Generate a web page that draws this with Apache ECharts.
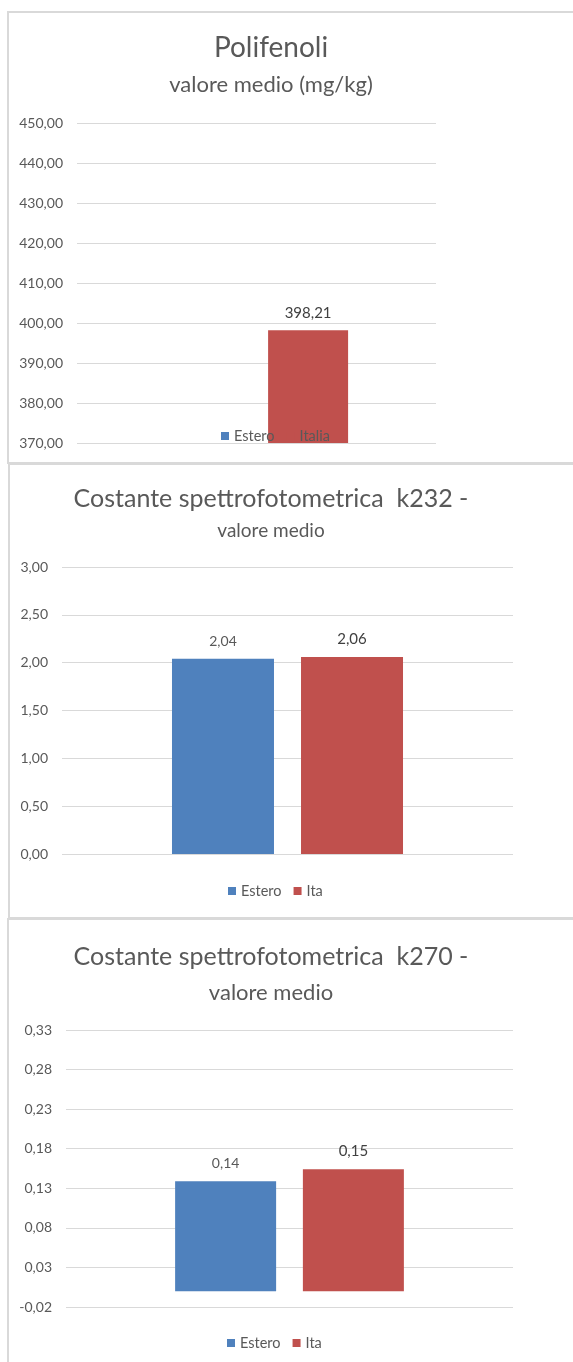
<!DOCTYPE html>
<html><head><meta charset="utf-8">
<script src="https://cdn.jsdelivr.net/npm/echarts@6/dist/echarts.min.js"></script>
<style>html,body{margin:0;padding:0;background:#fff}#c{width:573px;height:1362px}</style>
</head><body><div id="c"></div>
<script>
// ---- data ----
const categories = [''];
const polifenoliNames = ['Estero', 'Italia'];
const polifenoliValues = [null, 398.21];
const polifenoliAxis = [370, 450, 10];   // min, max, interval
const k232Names = ['Estero', 'Ita'];
const k232Values = [2.04, 2.06];
const k232Axis = [0, 3, 0.5];
const k270Names = ['Estero', 'Ita'];
const k270Values = [0.139, 0.154];
const k270Axis = [-0.02, 0.33, 0.05];
const titles = [
  ['Polifenoli', 'valore medio (mg/kg)'],
  ['Costante spettrofotometrica  k232 -', 'valore medio'],
  ['Costante spettrofotometrica  k270 -', 'valore medio']
];

// ---- styles ----
const FONT = 'Lato';
const colors = ['#4f81bd', '#c0504d'];
const labelColors = ['#595959', '#404040'];
const fmt = v => (Math.round(v * 100) / 100).toFixed(2).replace('.', ',');

const panels = [
  {names: polifenoliNames, values: polifenoliValues, axis: polifenoliAxis,
   grid: {left: 77, right: 137, top: 123, bottom: 1362 - 443}, barWidth: 80, barGap: '29%',
   t1: {y: 48, size: 28}, t2: {y: 85, size: 22}, legend: {left: 221, y: 436}, labelDist: 10},
  {names: k232Names, values: k232Values, axis: k232Axis,
   grid: {left: 62, right: 60, top: 567, bottom: 1362 - 854}, barWidth: 102, barGap: '26.5%',
   t1: {y: 499, size: 25}, t2: {y: 531, size: 19}, legend: {left: 228, y: 891}, labelDist: 10},
  {names: k270Names, values: k270Values, axis: k270Axis,
   grid: {left: 66, right: 60, top: 1030, bottom: 1362 - 1307}, barWidth: 101, barGap: '26.5%',
   t1: {y: 957, size: 25}, t2: {y: 993, size: 22}, legend: {left: 227, y: 1343}, labelDist: 11}
];

const option = {
  animation: false,
  backgroundColor: '#ffffff',
  textStyle: {fontFamily: FONT},
  title: [], legend: [], grid: [], xAxis: [], yAxis: [], series: [],
  graphic: [
    {type: 'rect', shape: {x: 8, y: 12, width: 620, height: 451}, style: {fill: 'none', stroke: '#d9d9d9', lineWidth: 2}, silent: true},
    {type: 'rect', shape: {x: 9, y: 464, width: 620, height: 454}, style: {fill: 'none', stroke: '#d9d9d9', lineWidth: 2}, silent: true},
    {type: 'rect', shape: {x: 8, y: 919, width: 620, height: 500}, style: {fill: 'none', stroke: '#d9d9d9', lineWidth: 2}, silent: true}
  ]
};

panels.forEach((p, i) => {
  const lh1 = Math.round(p.t1.size * 1.2), lh2 = Math.round(p.t2.size * 1.2);
  option.title.push({text: titles[i][0], left: 271, top: p.t1.y - lh1 / 2, padding: 0, textAlign: 'center',
    textStyle: {fontFamily: FONT, fontSize: p.t1.size, fontWeight: 'normal', color: '#595959', lineHeight: lh1}});
  option.title.push({text: titles[i][1], left: 271, top: p.t2.y - lh2 / 2, padding: 0, textAlign: 'center',
    textStyle: {fontFamily: FONT, fontSize: p.t2.size, fontWeight: 'normal', color: '#595959', lineHeight: lh2}});
  option.legend.push({data: p.names, left: p.legend.left, top: p.legend.y - 8, padding: 0, orient: 'horizontal',
    icon: 'rect', itemWidth: 8, itemHeight: 8, itemGap: 12,
    textStyle: {fontFamily: FONT, fontSize: 14.5, color: '#595959', lineHeight: 16}});
  option.grid.push(Object.assign({containLabel: false}, p.grid));
  option.xAxis.push({type: 'category', gridIndex: i, data: categories,
    axisLine: {show: false}, axisTick: {show: false}, axisLabel: {show: false}, splitLine: {show: false}});
  option.yAxis.push({type: 'value', gridIndex: i, min: p.axis[0], max: p.axis[1], interval: p.axis[2],
    axisLine: {show: false}, axisTick: {show: false},
    axisLabel: {formatter: fmt, fontFamily: FONT, fontSize: 14, color: '#595959', margin: 14},
    splitLine: {lineStyle: {color: '#d9d9d9', width: 1}}});
  p.names.forEach((n, j) => {
    option.series.push({type: 'bar', name: n, xAxisIndex: i, yAxisIndex: i,
      data: [p.values[j]], barWidth: p.barWidth, barGap: p.barGap,
      itemStyle: {color: colors[j]},
      label: {show: true, position: 'top', distance: p.labelDist, formatter: d => fmt(d.value),
        fontFamily: FONT, fontSize: j === 0 ? 14 : 15, color: labelColors[j]}});
  });
});

const chart = echarts.init(document.getElementById('c'), null, {renderer: 'canvas'});
chart.setOption(option);
</script></body></html>
